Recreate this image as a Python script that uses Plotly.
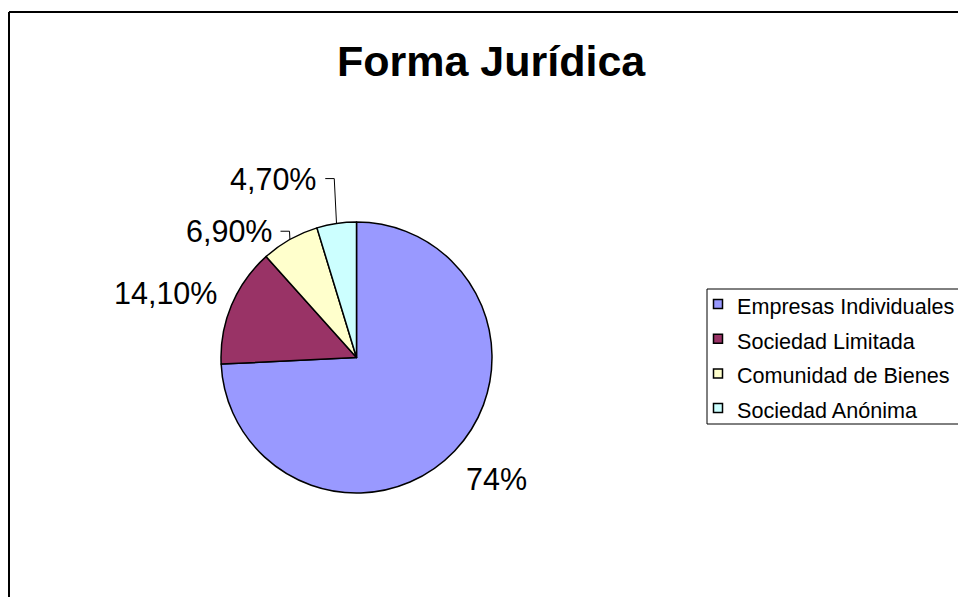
import numpy as np
import plotly.graph_objects as go

# data
title = "Forma Jurídica"
categories = ["Empresas Individuales", "Sociedad Limitada", "Comunidad de Bienes", "Sociedad Anónima"]
values = [74.0, 14.1, 6.9, 4.7]
value_labels = ["74%", "14,10%", "6,90%", "4,70%"]
colors = ["#9999FF", "#993366", "#FFFFCC", "#CCFFFF"]

W, H = 958, 597
FONT = "Liberation Sans, Arial, sans-serif"

# pie geometry (pixels)
cx, cy, r = 356.5, 357.5, 135.5
label_gap = 13
# small slices get a leader line; elbow distance as a multiple of the radius
leader_radius = {"Comunidad de Bienes": 1.07, "Sociedad Anónima": 1.335}

fig = go.Figure()
fig.add_trace(go.Pie(
    labels=categories,
    values=values,
    sort=False,
    direction="clockwise",
    rotation=0,
    marker=dict(colors=colors, line=dict(color="black", width=1.5)),
    textinfo="none",
    hoverinfo="label+percent",
    showlegend=False,
    domain=dict(x=[(cx - r) / W, (cx + r) / W], y=[1 - (cy + r) / H, 1 - (cy - r) / H]),
))

shapes = []
annotations = []

# slice labels, placed from the slice mid angles
total = sum(values)
start = 0.0
for cat, v, txt in zip(categories, values, value_labels):
    mid = (start + v / 2) / total * 2 * np.pi
    start += v
    dx, dy = np.sin(mid), -np.cos(mid)
    ex, ey = cx + r * dx, cy + r * dy
    if cat in leader_radius:
        k = leader_radius[cat]
        bx, by = cx + r * k * dx, cy + r * k * dy
        # keep the riser close to vertical like the original
        bx = max(bx, ex - 0.05 * (ey - by))
        hx = bx - 9 if dx < 0 else bx + 9
        shapes.append(dict(type="path", xref="x", yref="y",
                           path=f"M{ex},{ey} L{bx},{by} L{hx},{by}",
                           line=dict(color="black", width=1)))
        annotations.append(dict(x=hx - 7 if dx < 0 else hx + 7, y=by, xref="x", yref="y",
                                text=txt, showarrow=False,
                                xanchor="right" if dx < 0 else "left", yanchor="middle",
                                font=dict(family=FONT, size=30.5, color="black")))
    else:
        px_, py_ = ex + label_gap * dx, ey + label_gap * dy
        if abs(dy) < 0.5:
            ya = "middle"
            py_ -= 7
        else:
            ya = "top" if dy > 0 else "bottom"
        annotations.append(dict(x=px_, y=py_, xref="x", yref="y",
                                text=txt, showarrow=False,
                                xanchor="left" if dx > 0 else "right", yanchor=ya,
                                font=dict(family=FONT, size=30.5, color="black")))

# title
annotations.append(dict(x=491, y=61, xref="x", yref="y", text="<b>" + title + "</b>",
                        showarrow=False, xanchor="center", yanchor="middle",
                        font=dict(family=FONT, size=43, color="black")))

# chart border (runs off the right and bottom edges)
shapes.append(dict(type="line", xref="x", yref="y", x0=9, y0=12, x1=W + 20, y1=12,
                   line=dict(color="black", width=2)))
shapes.append(dict(type="line", xref="x", yref="y", x0=9, y0=12, x1=9, y1=H + 20,
                   line=dict(color="black", width=2)))

# legend box
lx, ly = 707, 289
shapes.append(dict(type="rect", xref="x", yref="y", x0=lx, y0=ly, x1=W + 20, y1=ly + 135,
                   line=dict(color="black", width=1), fillcolor="white"))
for i, (cat, c) in enumerate(zip(categories, colors)):
    sy = ly + 15 + 34.7 * i
    shapes.append(dict(type="rect", xref="x", yref="y", x0=lx + 6.5, x1=lx + 15.5, y0=sy - 4.5, y1=sy + 4.5,
                       line=dict(color="black", width=1.5), fillcolor=c))
    annotations.append(dict(x=lx + 28, y=sy + 2.5, xref="x", yref="y", text=cat, showarrow=False,
                            xanchor="left", yanchor="middle",
                            font=dict(family=FONT, size=21.6, color="black")))

fig.update_layout(
    width=W, height=H,
    margin=dict(l=0, r=0, t=0, b=0),
    paper_bgcolor="white", plot_bgcolor="white",
    xaxis=dict(range=[0, W], visible=False, fixedrange=True),
    yaxis=dict(range=[H, 0], visible=False, fixedrange=True),
    shapes=shapes,
    annotations=annotations,
    showlegend=False,
)

# drop the default page margin so the figure sits at the window's corner
fig.write_html("out.html", config={"displayModeBar": False},
               post_script="document.body.style.margin='0';document.body.style.overflow='hidden';")
